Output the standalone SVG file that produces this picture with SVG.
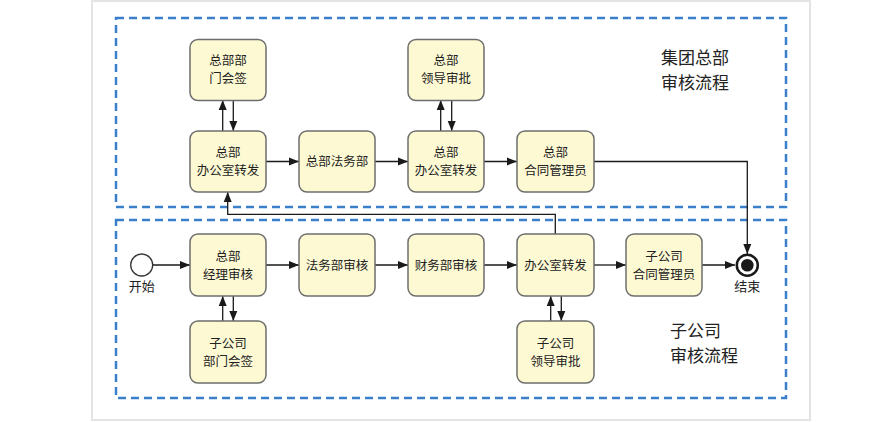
<svg xmlns="http://www.w3.org/2000/svg" width="881" height="422" viewBox="0 0 881 422">
<style>
.node text,.lbl{font-family:"Noto Sans CJK SC","Liberation Sans",sans-serif;font-size:12.5px;fill:#222;text-anchor:middle}
.node rect{fill:#fdf9d3;stroke:#6e6e6e;stroke-width:1.5}
.big{font-family:"Noto Sans CJK SC","Liberation Sans",sans-serif;font-size:17px;fill:#222}
.lane{fill:none;stroke:#3b7fcb;stroke-width:2.5;stroke-dasharray:8 5}
.edge{fill:none;stroke:#1a1a1a;stroke-width:1.3;marker-end:url(#arr)}
</style>
<defs>
<marker id="arr" viewBox="0 0 10 10" refX="10" refY="5" markerWidth="10" markerHeight="10" markerUnits="userSpaceOnUse" orient="auto">
<path d="M0,1 L10,5 L0,9 Z" fill="#1a1a1a"/>
</marker>
</defs>
<rect x="0" y="0" width="881" height="422" fill="#ffffff"/>
<rect x="92" y="1" width="718" height="419" fill="#ffffff" stroke="#e4e4e4" stroke-width="2"/>
<g id="lanes">
<rect class="lane" x="116" y="18" width="670" height="189"/>
<rect class="lane" x="116" y="220" width="670" height="178"/>
<text class="big" x="661" y="64">集团总部</text>
<text class="big" x="661" y="89">审核流程</text>
<text class="big" x="670" y="337">子公司</text>
<text class="big" x="670" y="362">审核流程</text>
</g>
<g id="connectors">
<path class="edge" d="M153,265 L190,265"/>
<path class="edge" d="M266,265 L299,265"/>
<path class="edge" d="M375,265 L408,265"/>
<path class="edge" d="M484,265 L517,265"/>
<path class="edge" d="M594,265 L626,265"/>
<path class="edge" d="M702,265 L735,265"/>
<path class="edge" d="M222.7,321 L222.7,296"/>
<path class="edge" d="M233.3,296 L233.3,321"/>
<path class="edge" d="M550.7,321 L550.7,296"/>
<path class="edge" d="M561.3,296 L561.3,321"/>
<path class="edge" d="M555.3,234 L555.3,214.3 L227.7,214.3 L227.7,192"/>
<path class="edge" d="M222.7,131 L222.7,100"/>
<path class="edge" d="M233.3,100 L233.3,131"/>
<path class="edge" d="M266,161.5 L299,161.5"/>
<path class="edge" d="M375,161.5 L408,161.5"/>
<path class="edge" d="M440.7,131 L440.7,100"/>
<path class="edge" d="M451.7,100 L451.7,131"/>
<path class="edge" d="M484,161.5 L517,161.5"/>
<path class="edge" d="M594,161.5 L747.3,161.5 L747.3,254"/>
</g>
<g id="start">
<circle cx="141.7" cy="265" r="11" fill="#ffffff" stroke="#333" stroke-width="1.3"/>
<text class="lbl" x="141.7" y="291" style="font-size:13px">开始</text>
</g>
<g id="end">
<circle cx="747.3" cy="265.3" r="10.5" fill="#ffffff" stroke="#1a1a1a" stroke-width="2.5"/>
<circle cx="747.3" cy="265.3" r="6.3" fill="#1a1a1a"/>
<text class="lbl" x="747.3" y="291" style="font-size:13px">结束</text>
</g>
<g id="hq-dept-sign" class="node"><rect x="190" y="39.5" width="76" height="61" rx="8"/><text x="228" y="65">总部部</text><text x="228" y="83.2">门会签</text></g>
<g id="hq-office1" class="node"><rect x="190" y="131" width="76" height="61" rx="8"/><text x="228" y="157">总部</text><text x="228" y="175.2">办公室转发</text></g>
<g id="hq-legal" class="node"><rect x="299" y="131" width="76" height="61" rx="8"/><text x="337" y="166">总部法务部</text></g>
<g id="hq-office2" class="node"><rect x="408" y="131" width="76" height="61" rx="8"/><text x="446" y="157">总部</text><text x="446" y="175.2">办公室转发</text></g>
<g id="hq-leader" class="node"><rect x="408" y="39.5" width="76" height="61" rx="8"/><text x="446" y="65">总部</text><text x="446" y="83.2">领导审批</text></g>
<g id="hq-contract" class="node"><rect x="517" y="131" width="77" height="61" rx="8"/><text x="555.5" y="157">总部</text><text x="555.5" y="175.2">合同管理员</text></g>
<g id="mgr-review" class="node"><rect x="190" y="234" width="76" height="62" rx="8"/><text x="228" y="261">总部</text><text x="228" y="279.2">经理审核</text></g>
<g id="legal-review" class="node"><rect x="299" y="234" width="76" height="62" rx="8"/><text x="337" y="270">法务部审核</text></g>
<g id="finance-review" class="node"><rect x="408" y="234" width="76" height="62" rx="8"/><text x="446" y="270">财务部审核</text></g>
<g id="office" class="node"><rect x="517" y="234" width="77" height="62" rx="8"/><text x="555.5" y="270">办公室转发</text></g>
<g id="sub-contract" class="node"><rect x="626" y="234" width="76" height="62" rx="8"/><text x="664" y="261">子公司</text><text x="664" y="279.2">合同管理员</text></g>
<g id="sub-dept-sign" class="node"><rect x="190" y="321" width="76" height="62" rx="8"/><text x="228" y="348">子公司</text><text x="228" y="366.2">部门会签</text></g>
<g id="sub-leader" class="node"><rect x="517" y="321" width="77" height="62" rx="8"/><text x="555.5" y="348">子公司</text><text x="555.5" y="366.2">领导审批</text></g>
</svg>
